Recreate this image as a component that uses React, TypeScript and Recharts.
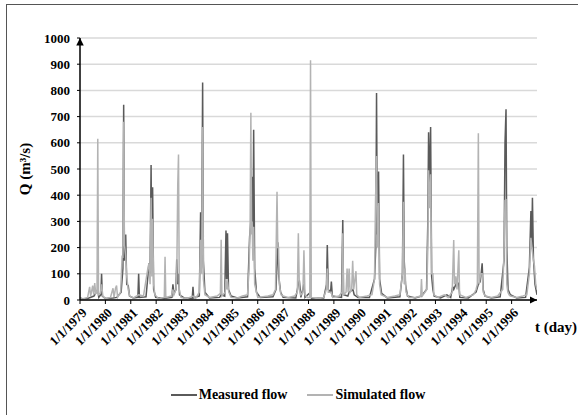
import { LineChart, Line, XAxis, YAxis, CartesianGrid, Legend } from 'recharts';

// daily discharge, reduced to the visible events: [time in years, Q in m3/s]
const measuredFlow: [number, number][] = [
  [1979.0, 8], [1979.1, 5], [1979.3, 6], [1979.55, 15], [1979.7, 40], [1979.74, 10], [1979.82, 20], [1979.85, 100], [1979.88, 15],
  [1980.0, 6], [1980.3, 8], [1980.45, 10], [1980.62, 30], [1980.69, 120], [1980.72, 745], [1980.75, 150], [1980.8, 250], [1980.84, 60], [1980.9, 55], [1980.95, 15],
  [1981.1, 8], [1981.28, 10], [1981.31, 100], [1981.34, 10], [1981.6, 12], [1981.72, 140], [1981.76, 100], [1981.8, 515], [1981.83, 120], [1981.86, 430], [1981.9, 40], [1981.98, 10],
  [1982.3, 6], [1982.62, 10], [1982.66, 60], [1982.7, 25], [1982.78, 40], [1982.81, 155], [1982.85, 60], [1982.88, 100], [1982.92, 20],
  [1983.1, 8], [1983.42, 6], [1983.45, 50], [1983.48, 8], [1983.7, 15], [1983.75, 335], [1983.79, 120], [1983.83, 830], [1983.86, 150], [1983.92, 30],
  [1984.1, 8], [1984.5, 10], [1984.56, 20], [1984.7, 15], [1984.75, 265], [1984.78, 80], [1984.81, 255], [1984.85, 40], [1984.95, 15],
  [1985.2, 8], [1985.6, 12], [1985.68, 240], [1985.73, 300], [1985.78, 470], [1985.81, 200], [1985.84, 650], [1985.88, 120], [1985.95, 30],
  [1986.1, 10], [1986.6, 12], [1986.72, 40], [1986.76, 150], [1986.79, 220], [1986.83, 90], [1986.9, 30],
  [1987.0, 10], [1987.5, 8], [1987.6, 60], [1987.64, 75], [1987.7, 10], [1987.82, 60], [1987.86, 10],
  [1988.08, 30], [1988.12, 6], [1988.6, 8], [1988.71, 60], [1988.74, 210], [1988.78, 40], [1988.87, 30], [1988.9, 70], [1988.94, 15],
  [1989.3, 10], [1989.35, 305], [1989.38, 20], [1989.55, 15], [1989.6, 30], [1989.75, 40], [1989.8, 20], [1989.95, 10],
  [1990.4, 10], [1990.6, 80], [1990.65, 200], [1990.68, 790], [1990.71, 250], [1990.76, 490], [1990.8, 80], [1990.88, 25],
  [1991.1, 8], [1991.6, 12], [1991.7, 100], [1991.74, 555], [1991.77, 150], [1991.82, 60], [1991.9, 15],
  [1992.2, 8], [1992.45, 15], [1992.65, 40], [1992.7, 300], [1992.73, 640], [1992.76, 400], [1992.81, 660], [1992.85, 90], [1992.9, 40], [1992.95, 15],
  [1993.2, 8], [1993.45, 20], [1993.6, 10], [1993.68, 50], [1993.72, 40], [1993.85, 70], [1993.92, 60], [1993.96, 10],
  [1994.3, 8], [1994.6, 30], [1994.69, 60], [1994.76, 70], [1994.8, 100], [1994.84, 140], [1994.88, 40], [1994.95, 15],
  [1995.2, 8], [1995.55, 12], [1995.7, 150], [1995.74, 600], [1995.78, 728], [1995.81, 200], [1995.86, 40], [1995.95, 20],
  [1996.2, 8], [1996.55, 10], [1996.7, 125], [1996.76, 340], [1996.79, 200], [1996.82, 390], [1996.86, 160], [1996.92, 60], [1997.0, 20],
];

const simulatedFlow: [number, number][] = [
  [1979.0, 10], [1979.05, 3], [1979.3, 10], [1979.38, 50], [1979.42, 15], [1979.5, 55], [1979.54, 20], [1979.58, 65], [1979.62, 25], [1979.67, 30], [1979.7, 615], [1979.73, 20], [1979.8, 25], [1979.85, 60], [1979.9, 15],
  [1980.0, 5], [1980.2, 10], [1980.3, 45], [1980.34, 10], [1980.4, 45], [1980.44, 55], [1980.48, 10], [1980.6, 30], [1980.66, 170], [1980.69, 160], [1980.72, 680], [1980.75, 210], [1980.8, 170], [1980.84, 90], [1980.9, 40], [1980.96, 15],
  [1981.1, 8], [1981.31, 20], [1981.5, 15], [1981.68, 125], [1981.72, 140], [1981.76, 60], [1981.8, 390], [1981.83, 90], [1981.86, 310], [1981.9, 60], [1981.95, 20],
  [1982.1, 5], [1982.32, 10], [1982.35, 165], [1982.38, 10], [1982.6, 15], [1982.66, 40], [1982.7, 20], [1982.78, 40], [1982.81, 80], [1982.85, 440], [1982.88, 555], [1982.91, 40], [1982.98, 10],
  [1983.2, 5], [1983.45, 15], [1983.55, 5], [1983.7, 30], [1983.75, 230], [1983.79, 100], [1983.83, 660], [1983.86, 80], [1983.92, 20],
  [1984.1, 10], [1984.4, 15], [1984.53, 25], [1984.56, 230], [1984.59, 15], [1984.72, 30], [1984.75, 80], [1984.78, 40], [1984.81, 70], [1984.86, 30], [1984.95, 10],
  [1985.2, 8], [1985.4, 15], [1985.6, 20], [1985.66, 120], [1985.7, 280], [1985.73, 715], [1985.76, 250], [1985.78, 300], [1985.81, 150], [1985.84, 280], [1985.88, 60], [1985.93, 40],
  [1986.0, 10], [1986.4, 15], [1986.6, 20], [1986.7, 40], [1986.76, 413], [1986.79, 200], [1986.82, 200], [1986.85, 60], [1986.92, 20],
  [1987.0, 15], [1987.2, 10], [1987.45, 15], [1987.56, 30], [1987.6, 255], [1987.64, 40], [1987.7, 20], [1987.78, 30], [1987.82, 190], [1987.86, 20], [1987.95, 10],
  [1988.05, 10], [1988.08, 915], [1988.11, 10], [1988.4, 5], [1988.6, 10], [1988.7, 40], [1988.74, 120], [1988.78, 30], [1988.9, 30], [1988.95, 10],
  [1989.2, 15], [1989.32, 30], [1989.35, 255], [1989.38, 20], [1989.48, 30], [1989.52, 120], [1989.56, 30], [1989.6, 120], [1989.64, 30], [1989.7, 40], [1989.74, 150], [1989.78, 40], [1989.87, 110], [1989.9, 20],
  [1990.0, 10], [1990.3, 15], [1990.5, 20], [1990.6, 80], [1990.64, 380], [1990.68, 550], [1990.71, 200], [1990.76, 370], [1990.8, 60], [1990.86, 20],
  [1991.1, 10], [1991.4, 15], [1991.6, 20], [1991.7, 100], [1991.74, 375], [1991.77, 60], [1991.8, 120], [1991.84, 30], [1991.95, 10],
  [1992.2, 10], [1992.42, 15], [1992.45, 80], [1992.48, 15], [1992.66, 40], [1992.7, 200], [1992.73, 495], [1992.76, 350], [1992.81, 480], [1992.85, 100], [1992.9, 100], [1992.94, 20],
  [1993.1, 10], [1993.35, 20], [1993.5, 10], [1993.66, 30], [1993.72, 229], [1993.75, 60], [1993.8, 90], [1993.85, 40], [1993.92, 190], [1993.95, 20],
  [1994.2, 10], [1994.5, 20], [1994.6, 40], [1994.65, 60], [1994.69, 636], [1994.72, 60], [1994.78, 100], [1994.84, 100], [1994.88, 30], [1994.96, 15],
  [1995.2, 10], [1995.45, 15], [1995.65, 40], [1995.7, 180], [1995.74, 380], [1995.78, 382], [1995.81, 60], [1995.85, 30], [1995.9, 20], [1995.95, 15],
  [1996.2, 10], [1996.45, 15], [1996.6, 20], [1996.7, 100], [1996.76, 237], [1996.8, 200], [1996.86, 150], [1996.9, 130], [1996.95, 60], [1997.0, 40],
];

const yearTicks = [1979, 1980, 1981, 1982, 1983, 1984, 1985, 1986, 1987, 1988, 1989, 1990, 1991, 1992, 1993, 1994, 1995, 1996];
const qTicks = [0, 100, 200, 300, 400, 500, 600, 700, 800, 900, 1000];

const FONT = 'Liberation Serif, Tinos, DejaVu Serif, serif';
const MEASURED = '#5a5a5a';
const SIMULATED = '#b3b3b3';

const toPoints = (rows: [number, number][]) => rows.map(([t, q]) => ({ t, q }));

function LegendBox() {
  const item = (color: string, text: string) => (
    <div style={{ display: 'flex', alignItems: 'center', marginRight: 20 }}>
      <svg width={26} height={4} style={{ marginRight: 2 }}>
        <line x1={0} y1={2} x2={26} y2={2} stroke={color} strokeWidth={2} />
      </svg>
      <span>{text}</span>
    </div>
  );
  return (
    <div style={{ display: 'flex', justifyContent: 'center', paddingLeft: 38, fontFamily: FONT, fontWeight: 'bold', fontSize: 14, lineHeight: '18px', color: '#000' }}>
      {item(MEASURED, 'Measured flow')}
      {item(SIMULATED, 'Simulated flow')}
    </div>
  );
}

export default function App() {
  const tickStyle = { fill: '#000', fontSize: 13, fontWeight: 'bold', fontFamily: FONT };
  return (
    <div style={{ position: 'fixed', inset: 0, overflow: 'hidden', background: '#fff' }}>
      <div style={{ position: 'absolute', left: 6, top: 4, width: 620, height: 440, border: '1.5px solid #555' }} />
      <div style={{ position: 'absolute', left: 0, top: 0 }}>
        <LineChart width={578} height={415} margin={{ top: 38, right: 41, left: 0, bottom: 45 }}>
          <defs>
            <marker id="axisArrow" viewBox="0 0 10 10" refX="10" refY="5" markerWidth="5" markerHeight="5" orient="auto-start-reverse">
              <path d="M0,0 L10,5 L0,10 z" fill="#000" />
            </marker>
          </defs>
          <CartesianGrid vertical={false} stroke="#d9d9d9" strokeWidth={1.5} />
          <XAxis
            dataKey="t"
            type="number"
            domain={[1979, 1997]}
            ticks={yearTicks}
            allowDataOverflow
            height={50}
            tickSize={4}
            tickLine={{ stroke: '#000' }}
            axisLine={{ stroke: '#000', strokeWidth: 1.5, markerEnd: 'url(#axisArrow)' }}
            tickFormatter={(v: number) => `1/1/${v}`}
            angle={-45}
            textAnchor="end"
            dx={1}
            dy={1}
            tick={tickStyle}
            interval={0}
            label={{
              content: (props: any) => {
                const vb = props.viewBox;
                return (
                  <text x={vb.x + vb.width + 40} y={vb.y + 32} textAnchor="end" fontFamily={FONT} fontWeight="bold" fontSize={15} fill="#000">
                    t (day)
                  </text>
                );
              },
            }}
          />
          <YAxis
            type="number"
            domain={[0, 1000]}
            ticks={qTicks}
            width={80}
            tickSize={3}
            tickMargin={7}
            tickLine={{ stroke: '#000' }}
            axisLine={{ stroke: '#000', strokeWidth: 1.5, markerStart: 'url(#axisArrow)' }}
            tick={tickStyle}
            label={{
              content: (props: any) => {
                const vb = props.viewBox;
                const cx = vb.x + 25;
                const cy = vb.y + vb.height / 2;
                return (
                  <text x={cx} y={cy} transform={`rotate(-90, ${cx}, ${cy})`} textAnchor="middle" dominantBaseline="central" fontFamily={FONT} fontWeight="bold" fontSize={15} fill="#000">
                    Q (m³/s)
                  </text>
                );
              },
            }}
          />
          <Legend
            verticalAlign="bottom"
            content={() => <LegendBox />}
            wrapperStyle={{ top: 386, bottom: 'auto', left: 0, width: 578, height: 20 }}
          />
          <Line
            name="Measured flow"
            data={toPoints(measuredFlow)}
            dataKey="q"
            stroke={MEASURED}
            strokeWidth={1.5}
            dot={false}
            activeDot={false}
            isAnimationActive={false}
          />
          <Line
            name="Simulated flow"
            data={toPoints(simulatedFlow)}
            dataKey="q"
            stroke={SIMULATED}
            strokeWidth={1.5}
            dot={false}
            activeDot={false}
            isAnimationActive={false}
          />
        </LineChart>
      </div>
    </div>
  );
}
